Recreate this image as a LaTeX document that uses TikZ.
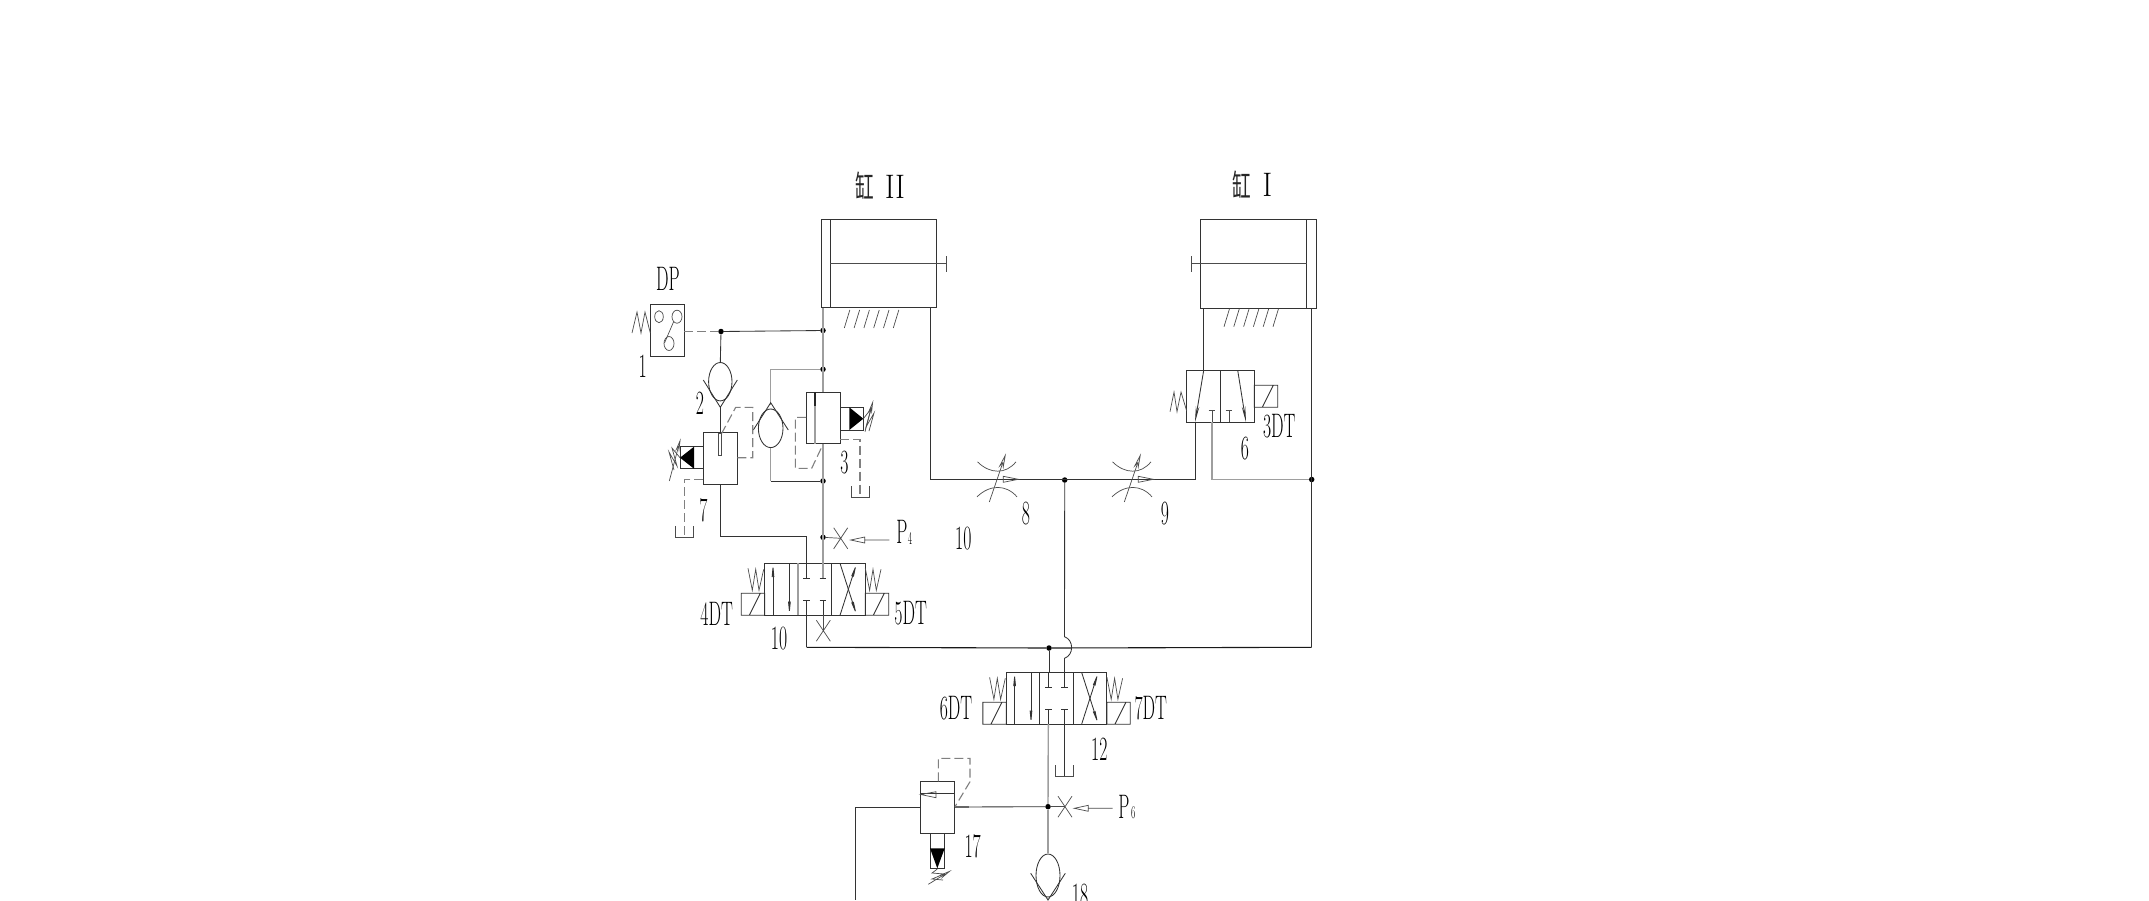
\documentclass[tikz,border=0pt]{standalone}
\usepackage{fontspec}
\newfontfamily\cjkf{Noto Sans CJK SC}[Scale=1]
\usetikzlibrary{arrows.meta}
\newcommand\nar[1]{\scalebox{.52}[1]{#1}}
\newcommand\wspring[2]{\draw[lt,shift={(#1,#2)}] (0,0)--(4.3,22)--(7.7,1)--(11,22)--(15.7,1);}
\newcommand\solenoid[2]{\draw[ln,shift={(#1,#2)}] (0,0) rectangle (23.4,22) (8,22)--(19,0);}
\newcommand\fourway[2]{\begin{scope}[shift={(#1,#2)}]
  \draw[ln] (0,0) rectangle (100.6,52) (33.4,0)--(33.4,52) (66.9,0)--(66.9,52);
  \draw[ln] (8.3,52)--(8.3,18);
  \draw[ln,-{Stealth[length=18pt,width=3.5pt]}] (8.3,20)--(8.3,0);
  \draw[ln,-{Stealth[length=18pt,width=3.5pt]}] (24.7,0)--(24.7,52);
  \draw[ln] (42,0)--(42,15) (38.7,15)--(45.3,15) (58.3,0)--(58.3,15) (55,15)--(61.6,15);
  \draw[ln] (42,37)--(42,52) (38.7,37)--(45.3,37) (58.3,37)--(58.3,52) (55,37)--(61.6,37);
  \draw[ln,-{Stealth[length=18pt,width=3.5pt]}] (75.3,52)--(92,0);
  \draw[ln,-{Stealth[length=18pt,width=3.5pt]}] (75.3,0)--(92,52);
  \solenoid{-23.4}{30}\solenoid{100.6}{30}
  \wspring{-16.7}{5}\wspring{100.6}{5}
\end{scope}}
\newcommand\crossmark[2]{\draw[lt,shift={(#1,#2)}] (-7,-10.5)--(7,10.5) (7,-10.5)--(-7,10.5);}
\newcommand\openarrow[3]{\draw[lt,shift={(#1,#2)}] (0,0)--(14,-3)--(14,3)--cycle (14,0)--(#3,0);}
\newcommand\throttle[2]{\begin{scope}[shift={(#1,#2)}]
  \draw[lt] (-20.5,-17.5) .. controls (-8,-5) and (8,-5) .. (18,-17.5);
  \draw[lt] (-21,17.5) .. controls (-8,5) and (8,5) .. (19,17.5);
  \draw[lt,-{Stealth[length=16pt,width=5pt,open]}] (-8.7,22.7)--(8,-26);
  \draw[lt] (5.3,-3)--(20.3,0)--(5.3,3)--cycle;
\end{scope}}
\newcommand\hatching[2]{\foreach \i in {0,...,5}{\draw[lt,shift={(#1,#2)}] (\i*9.8,18)--(\i*9.8+5.5,0);}}
\newcommand\tankmark[2]{\draw[lt,shift={(#1,#2)}] (-9,-11.5)--(-9,0)--(9,0)--(9,-11.5);}
\tikzset{
  ln/.style={draw=black!80,line width=.85pt},
  lt/.style={draw=black!70,line width=.7pt},
  soft/.style={draw=black!38,line width=1.4pt},
  dsh/.style={draw=black!50,line width=1.1pt,dash pattern=on 9pt off 4pt},
  dotmark/.style={circle,fill=black,inner sep=0pt,minimum size=5.5pt},
  lab/.style={inner sep=0pt,font=\fontsize{34}{34}\selectfont,text=black},
  sub/.style={inner sep=0pt,font=\fontsize{18}{18}\selectfont,text=black}
}
\begin{document}
\begin{tikzpicture}[x=1pt,y=-1pt]
\useasboundingbox (0,0) rectangle (2149,900);
\fill[white] (0,0) rectangle (2149,900);
% named junctions
\node[dotmark] (j1) at (823,330.5) {};
\node[dotmark] (j2) at (823,369.3) {};
\node[dotmark] (j3) at (823,481) {};
\node[dotmark] (j4) at (823,537.3) {};
\node[dotmark] (jd) at (721,331.5) {};
\node[dotmark] (j8) at (1064.7,480) {};
\node[dotmark] (jr) at (1311.7,479.5) {};
\node[dotmark] (jb) at (1049,648) {};
\node[dotmark] (j6) at (1048,806.7) {};
\coordinate (c2top) at (823,307.7);
\coordinate (v3top) at (823,392.3);
\coordinate (v3bot) at (823,443.7);
\coordinate (v10a) at (823,563.3);
\coordinate (v10l) at (806.7,563.3);
\coordinate (v10b) at (806.7,615.3);
\coordinate (rail) at (806.7,647.3);
\coordinate (railr) at (1311.7,647.3);
\coordinate (rtop) at (1311.7,308);
\coordinate (dpout) at (684.3,331.5);
% cylinder II
\draw[ln] (821,219.3) rectangle (936.3,307.7) (830.3,219.3)--(830.3,307.7);
\draw[lt] (830.3,263.3)--(946,263.3) (946,256)--(946,271.5);
\hatching{844.3}{310}
% cylinder I
\draw[ln] (1200.3,219.3) rectangle (1316,308) (1306.7,219.3)--(1306.7,308);
\draw[lt] (1306.7,263.3)--(1191.7,263.3) (1191.7,256)--(1191.7,271.5);
\hatching{1224}{308.7}
% pressure switch DP
\draw[ln] (650.3,304.3) rectangle (684.3,356);
\draw[lt] (632,333)--(637,312)--(641,333)--(645,312)--(650.3,333);
\draw[lt] (659,316.7) ellipse (4.3 and 6);
\draw[lt] (677,316.7) ellipse (5 and 6.5);
\draw[lt] (669,343.5) ellipse (5 and 7);
\draw[lt] (673.5,322)--(664.5,343);
\draw[dsh] (dpout)--(jd);
\draw[ln] (jd)--(j1);
% main line
\draw[soft] (c2top)--(v3top);
\draw[soft] (v3bot)--(v10a);
% check valve 2
\draw[ln] (jd)--(720.3,362.5);
\draw[ln] (720.3,381.7) ellipse (11.7 and 19.2);
\draw[ln] (703.3,380)--(720.3,407.3)--(737.3,380);
\draw[ln] (720.3,407.3)--(720.3,432.3);
\draw[ln] (720.3,484.3)--(720.3,536)--(806.7,536)--(v10l);
% check valve parallel
\draw[soft] (j2)--(770.7,369.3)--(770.7,405);
\draw[ln] (770.7,428.3) ellipse (12.3 and 19.3);
\draw[ln] (753.3,430)--(770.7,402.7)--(788.3,430);
\draw[soft] (770.7,447.7)--(770.7,481);
\draw[ln] (770.7,481)--(j3);
% valve 3
\draw[ln] (806,392.3) rectangle (840,443.7);
\draw[soft] (815,392.3)--(815,443.7);
\draw[line width=1.8pt,black!85] (815,392.3)--(815,406);
\draw[ln] (840,407.3)--(863.3,407.3)--(863.3,430)--(840,430);
\fill[black] (849.3,407.3)--(849.3,430)--(863.3,418.7)--cycle;
\draw[lt] (863.3,418.7)--(871,409)--(866,427)--(874,413)--(869,431);
\draw[lt,-{Stealth[length=14pt,width=4pt,open]}] (865,431.7)--(873.3,400);
\draw[dsh] (840,439.5)--(860,439.5)--(860,497);
\tankmark{860}{497.5}
\draw[dsh] (806,417.3)--(795.3,417.3)--(795.3,468.3)--(811.7,468.3)--(822.7,445);
% valve 7
\draw[ln] (703.3,432.3) rectangle (737.3,484.3);
\draw[lt] (718.8,433)--(721.8,433)--(721.8,455)--(718.8,455)--cycle;
\draw[ln] (703.3,446.7)--(680,446.7)--(680,468.7)--(703.3,468.7);
\fill[black] (694,446.7)--(694,468.7)--(680,457.7)--cycle;
\draw[lt] (680,457.7)--(672,448)--(677,466)--(669,452)--(674,470);
\draw[lt,-{Stealth[length=14pt,width=4pt,open]}] (669.3,481)--(680.7,438.3);
\draw[dsh] (737.3,457.7)--(752.7,457.7)--(752.7,407.3)--(735.7,407.3)--(721.7,433.3);
\draw[dsh] (703.3,479.7)--(684.7,479.7)--(684.7,536);
\tankmark{684.7}{537.3}
% P4
\draw[lt] (j4)--(840.7,538.3);
\crossmark{840.7}{538.3}
\openarrow{850.7}{540}{38.6}
\node[lab] (p4) at (902,531.7) {\nar{P}};
\node[sub] (p4s) at (910,538) {\nar{4}};
% valve 10
\fourway{764.7}{563.3}
\draw[soft] (798,563.3)--(798,615.3);
\draw[soft] (v10a)--(823,578);
\draw[ln] (v10b)--(rail);
\draw[lt] (823,615.3)--(823,630.7);
\crossmark{823.3}{630.7}
\draw[line width=1.1pt,black!90] (rail)--(jb)--(railr);
\draw[ln] (rtop)--(railr);
% valve 12
\fourway{1006.3}{672.3}
\draw[ln] (jb)--(1049,672.3);
\draw[ln] (j8)--(1064.5,636.7) .. controls (1074,640) and (1074,655) .. (1064.5,658.3)--(1064.5,672.3);
\draw[soft] (1048.3,724)--(j6);
\draw[ln] (1064.5,724)--(1064.5,776);
\tankmark{1064.5}{776.5}
% line to check valve 18
\draw[soft] (j6)--(1048,853);
\draw[ln] (1048,875.5) ellipse (12 and 21.5);
\draw[ln] (1030.7,873.3)--(1048,900)--(1065.3,873.3);
% P6
\draw[lt] (j6)--(1065,806.7);
\crossmark{1065}{806.7}
\openarrow{1074.3}{808.3}{38.4}
\node[lab] (p6) at (1124,806.7) {\nar{P}};
\node[sub] (p6s) at (1133.3,812.7) {\nar{6}};
% valve 17
\draw[ln] (920.7,781.3) rectangle (954.7,833.3) (920.7,793.3)--(954.7,793.3);
\draw[lt] (920.7,794.5)--(936,791.7)--(936,797.7)--cycle;
\draw[ln] (954.7,807)--(j6);
\draw[line width=1.6pt,black!60] (954.7,807)--(969,807);
\draw[ln] (920.7,807.3)--(855.3,807.3)--(855.3,900);
\draw[ln] (930.7,833.3)--(930.7,868.7)--(944.7,868.7)--(944.7,833.3);
\fill[black] (930,848.3)--(944.7,848.3)--(937.3,868.3)--cycle;
\draw[lt] (937.3,869)--(932,873)--(944,874)--(932,879)--(943,880);
\draw[lt,-{Stealth[length=14pt,width=4pt,open]}] (928.3,884.3)--(951.7,870);
\draw[dsh] (938.3,781.3)--(938.3,758.3)--(970,758.3)--(970,781.7)--(955,806.7);
% right side
\draw[ln] (930.3,307.7)--(930.3,479.3)--(1195,479.3)--(1195,422.3);
\throttle{998}{479.3}
\throttle{1133}{479.3}
% valve 6
\draw[ln] (1203.7,308)--(1203.7,370.3);
\draw[ln] (1186.7,370.3) rectangle (1254.3,422.3) (1220.7,370.3)--(1220.7,422.3);
\draw[ln,-{Stealth[length=16pt,width=3.5pt]}] (1203.7,370.3)--(1195,422.3);
\draw[ln,-{Stealth[length=16pt,width=3.5pt]}] (1237.7,370.3)--(1246,422.3);
\draw[lt] (1208.7,410)--(1215.3,410) (1212,410)--(1212,422.3) (1225.7,410)--(1232.3,410) (1229,410)--(1229,422.3);
\draw[soft] (1212,422.3)--(1212,479.5)--(jr);
\solenoid{1254.3}{385.3}
\draw[lt] (1170,411.7)--(1174,392)--(1177,411.7)--(1181,392)--(1186.7,411);
% labels
\node[inner sep=0pt,text=black!85,font=\cjkf\fontsize{31}{31}\selectfont\addfontfeature{}] (t1) at (864.3,186) {\scalebox{.6}[1]{缸}};
\node[lab] (t2) at (895,187) {\scalebox{.85}[1]{II}};
\node[inner sep=0pt,text=black!85,font=\cjkf\fontsize{31}{31}\selectfont] (t3) at (1241.7,185) {\scalebox{.6}[1]{缸}};
\node[lab] (t4) at (1267.3,185) {\scalebox{.85}[1]{I}};
\node[lab] (l1) at (668,279) {\nar{DP}};
\node[lab] (l2) at (642.7,366.7) {\nar{1}};
\node[lab] (l3) at (700,403.3) {\nar{2}};
\node[lab] (l4) at (703.3,510.7) {\nar{7}};
\node[lab] (l5) at (844.3,462.7) {\nar{3}};
\node[lab] (l6) at (716.7,614) {\nar{4DT}};
\node[lab] (l7) at (910.7,613) {\nar{5DT}};
\node[lab] (l8) at (779,639) {\nar{10}};
\node[lab] (l9) at (1026,514) {\nar{8}};
\node[lab] (l10) at (1165,513.3) {\nar{9}};
\node[lab] (l11) at (963.3,538.3) {\nar{10}};
\node[lab] (l12) at (1245,449) {\nar{6}};
\node[lab] (l13) at (1279.3,426) {\nar{3DT}};
\node[lab] (l14) at (956,708.3) {\nar{6DT}};
\node[lab] (l15) at (1150.7,708.3) {\nar{7DT}};
\node[lab] (l16) at (1099.3,749.3) {\nar{12}};
\node[lab] (l17) at (972.7,846) {\nar{17}};
\node[lab,anchor=north] (l18) at (1080,884) {\nar{18}};
\path[use as bounding box] (0,0) rectangle (2149,900);
\end{tikzpicture}
\end{document}
